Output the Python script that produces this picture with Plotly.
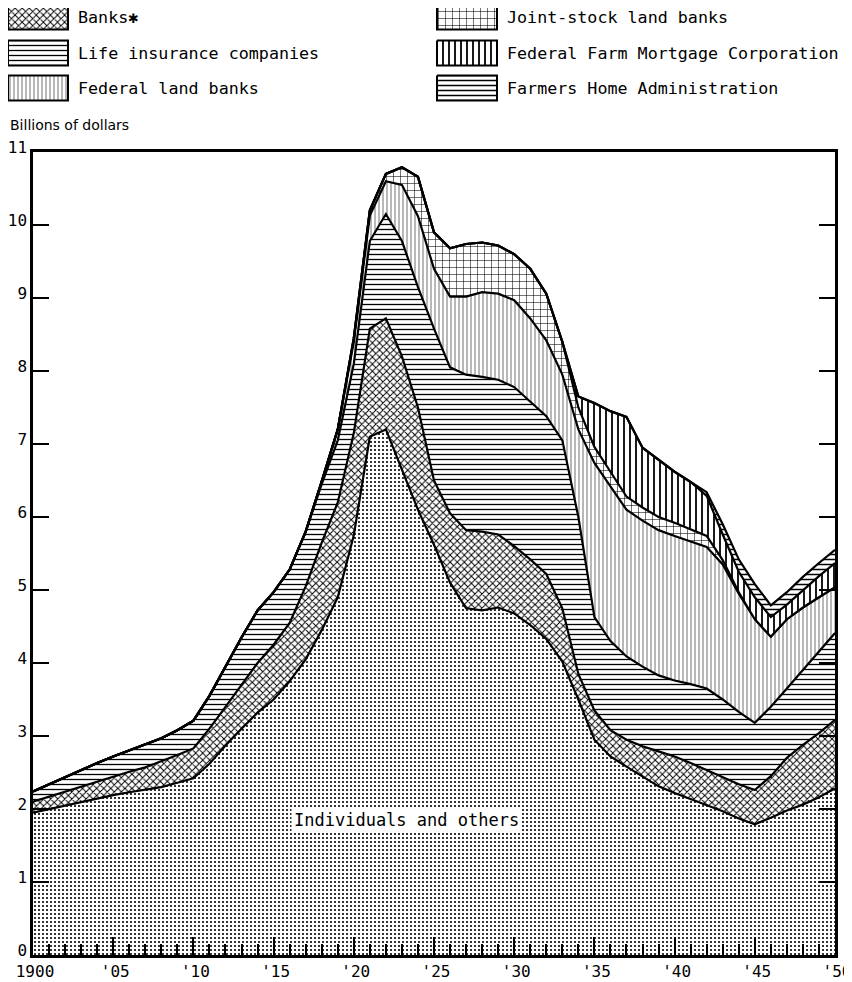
import plotly.graph_objects as go

# ---------------- data (billions of dollars, Jan. 1) ----------------
YEARS = list(range(1900, 1951))

INDIVIDUALS = [1.95, 2.00, 2.05, 2.10, 2.15, 2.19, 2.23, 2.26, 2.30, 2.36,
               2.42, 2.62, 2.87, 3.10, 3.32, 3.50, 3.75, 4.05, 4.45, 4.90,
               5.75, 7.10, 7.20, 6.65, 6.10, 5.62, 5.10, 4.75, 4.72, 4.76,
               4.68, 4.52, 4.33, 4.02, 3.50, 2.95, 2.72, 2.58, 2.44, 2.31,
               2.22, 2.14, 2.06, 1.97, 1.87, 1.79, 1.88, 1.98, 2.06, 2.16,
               2.28]
BANKS = [0.15, 0.17, 0.19, 0.21, 0.23, 0.26, 0.28, 0.31, 0.35, 0.38,
         0.41, 0.48, 0.53, 0.60, 0.68, 0.75, 0.80, 1.00, 1.20, 1.30,
         1.40, 1.48, 1.52, 1.55, 1.40, 0.88, 0.95, 1.07, 1.08, 1.00,
         0.92, 0.90, 0.89, 0.73, 0.35, 0.40, 0.36, 0.37, 0.42, 0.48,
         0.50, 0.49, 0.47, 0.46, 0.47, 0.47, 0.57, 0.72, 0.82, 0.88,
         0.94]
LIFE_INSURANCE = [0.14, 0.17, 0.20, 0.23, 0.25, 0.27, 0.29, 0.31, 0.32, 0.34,
                  0.38, 0.45, 0.55, 0.65, 0.72, 0.72, 0.73, 0.75, 0.80, 0.85,
                  0.95, 1.20, 1.43, 1.58, 1.65, 2.08, 2.00, 2.13, 2.12, 2.12,
                  2.18, 2.16, 2.16, 2.30, 2.15, 1.28, 1.22, 1.14, 1.09, 1.04,
                  1.04, 1.08, 1.12, 1.07, 0.99, 0.92, 0.95, 0.95, 1.02, 1.11,
                  1.19]
FEDERAL_LAND_BANKS = [0] * 17 + [
    0.00, 0.04, 0.15,
    0.30, 0.35, 0.45, 0.77, 0.97, 0.82, 0.97, 1.07, 1.16, 1.18,
    1.19, 1.14, 1.04, 0.90, 1.20, 2.11, 2.12, 2.01, 2.00, 1.99,
    1.98, 1.95, 1.94, 1.85, 1.62, 1.42, 0.96, 0.95, 0.86, 0.75,
    0.63]
JOINT_STOCK = [0] * 20 + [
    0.05, 0.07, 0.10, 0.24, 0.54, 0.50, 0.66, 0.72, 0.68, 0.66,
    0.63, 0.68, 0.64, 0.45, 0.30, 0.22, 0.20, 0.18, 0.18, 0.18,
    0.18, 0.17, 0.15, 0.06, 0.02] + [0] * 6
FFMC = [0] * 34 + [
    0.15, 0.60, 0.83, 1.09, 0.82, 0.78,
    0.70, 0.65, 0.55, 0.35, 0.28, 0.30, 0.27, 0.20, 0.24, 0.29,
    0.33]
FHA = [0] * 42 + [0.05, 0.14, 0.17, 0.18, 0.16, 0.17, 0.18, 0.18, 0.18]

TICK_YEARS = [1900, 1905, 1910, 1915, 1920, 1925, 1930, 1935, 1940, 1945, 1950]
TICK_TEXT = ["1900", "'05", "'10", "'15", "'20", "'25", "'30", "'35", "'40", "'45", "'50"]

SERIES = [
    ("Individuals and others", INDIVIDUALS, dict(shape=".", size=4, solidity=0.22)),
    ("Banks✱", BANKS, dict(shape="x", size=5, solidity=0.35)),
    ("Life insurance companies", LIFE_INSURANCE, dict(shape="-", size=5, solidity=0.26)),
    ("Federal land banks", FEDERAL_LAND_BANKS, dict(shape="|", size=4, solidity=0.14)),
    ("Joint-stock land banks", JOINT_STOCK, dict(shape="+", size=7, solidity=0.15)),
    ("Federal Farm Mortgage Corporation", FFMC, dict(shape="|", size=6, solidity=0.3)),
    ("Farmers Home Administration", FHA, dict(shape="-", size=5, solidity=0.3)),
]
# legend layout: (series index, column, row)
LEGEND_SLOTS = [(1, 0, 0), (2, 0, 1), (3, 0, 2), (4, 1, 0), (5, 1, 1), (6, 1, 2)]

# ---------------- geometry ----------------
# page is 852x982; the html body adds an 8px margin, so the figure is drawn
# 8px in from the top-left and all layout positions are given in page pixels.
OFF = 8
W, H = 852 - OFF, 982 - OFF
PL, PR, PT, PB = 33 - OFF, 835 - OFF, 152 - OFF, 955 - OFF
FONT = "DejaVu Sans Mono"
FONT2 = "DejaVu Sans"

fig = go.Figure()
for name, vals, pat in SERIES:
    fig.add_trace(go.Scatter(
        x=YEARS, y=vals, name=name, mode="lines", stackgroup="one",
        line=dict(color="black", width=2.2),
        fillpattern=dict(fgcolor="black", bgcolor="white", **pat),
        showlegend=False, hoverinfo="skip"))

# custom legend swatches on a pixel-unit overlay axis
COL_X = [8 - OFF, 437 - OFF]
ROW_Y = [17 - OFF, 53 - OFF, 88 - OFF]
BOX_W, BOX_H = 60, 25
for idx, col, row in LEGEND_SLOTS:
    name, _, pat = SERIES[idx]
    x0 = COL_X[col]
    yc = ROW_Y[row]
    fig.add_trace(go.Scatter(
        x=[x0, x0 + BOX_W, x0 + BOX_W, x0, x0],
        y=[yc - BOX_H / 2, yc - BOX_H / 2, yc + BOX_H / 2, yc + BOX_H / 2, yc - BOX_H / 2],
        xaxis="x2", yaxis="y2", mode="lines", fill="toself",
        line=dict(color="black", width=2),
        fillpattern=dict(fgcolor="black", bgcolor="white", **pat),
        showlegend=False, hoverinfo="skip"))
    fig.add_annotation(x=x0 + BOX_W + 8, y=yc, xref="x2", yref="y2",
                       text=name, showarrow=False, xanchor="left", yanchor="middle",
                       font=dict(size=16.7, family=FONT, color="black"))

fig.add_annotation(x=0, y=125 - OFF, xref="x2", yref="y2", text="Billions of dollars",
                   showarrow=False, xanchor="left", yanchor="middle",
                   font=dict(size=14, family=FONT2, color="black"))

fig.add_annotation(x=1923.3, y=1.85, xref="x", yref="y", text="Individuals and others",
                   showarrow=False, bgcolor="white", borderpad=2,
                   font=dict(size=17, family=FONT, color="black"))

paper_h = PB
fig.update_layout(
    width=W, height=H, template="none",
    margin=dict(l=0, r=0, t=0, b=H - PB, pad=0),
    paper_bgcolor="white", plot_bgcolor="rgba(0,0,0,0)",
    font=dict(family=FONT, color="black", size=17),
    showlegend=False,
    xaxis=dict(domain=[PL / W, PR / W], range=[1900, 1950], automargin=False,
               tickmode="array", tickvals=TICK_YEARS, ticktext=TICK_TEXT,
               ticks="inside", ticklen=18, tickwidth=2, tickcolor="black",
               minor=dict(tickmode="linear", tick0=1900, dtick=1, ticks="inside",
                          ticklen=11, tickwidth=1.5, tickcolor="black"),
               showline=True, linewidth=2.5, linecolor="black", mirror=True,
               showgrid=False, zeroline=False, tickfont=dict(size=16),
               ticklabelshift=2),
    yaxis=dict(domain=[0, (PB - PT) / paper_h], range=[0, 11], automargin=False,
               tickmode="linear", tick0=0, dtick=1,
               ticks="inside", ticklen=16, tickwidth=2, tickcolor="black",
               showline=True, linewidth=2.5, linecolor="black", mirror="ticks",
               showgrid=False, zeroline=False, tickfont=dict(size=16),
               ticklabelshift=-5),
    xaxis2=dict(domain=[0, 1], range=[0, W], visible=False, fixedrange=True,
                anchor="y2"),
    yaxis2=dict(domain=[0, 1], range=[paper_h, 0], visible=False, fixedrange=True,
                anchor="x2"),
)

fig.write_html("out.html")
